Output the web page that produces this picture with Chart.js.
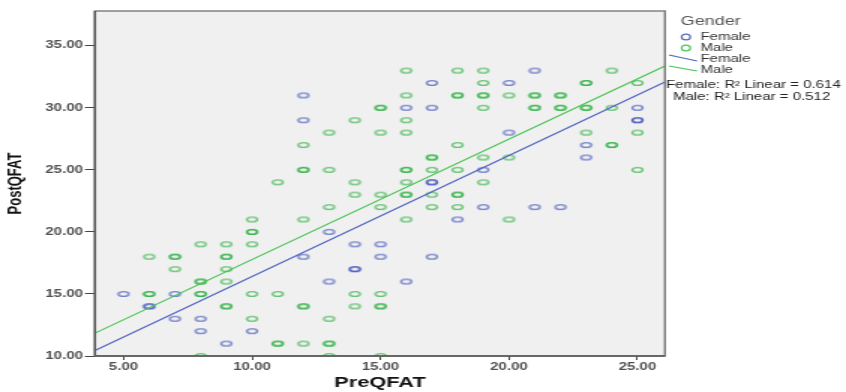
<!DOCTYPE html>
<html><head><meta charset="utf-8">
<script src="https://cdn.jsdelivr.net/npm/chart.js@4.4.0/dist/chart.umd.min.js"></script>
<style>
html,body{margin:0;padding:0;background:#fff;overflow:hidden;}
#wrap{width:564px;height:392px;transform:scaleX(1.5);transform-origin:0 0;}
</style>
</head><body>
<div id="wrap"><canvas id="c" width="564" height="392" style="width:564px;height:392px"></canvas></div>
<script>
// ---- data ----
const xTicks = [5, 10, 15, 20, 25];
const yTicks = [10, 15, 20, 25, 30, 35];
const xRange = [3.89, 26.07];
const yRange = [10, 37.8];

const femalePre  = [5,6,6,7,7,8,8,9,10,12,12,12,13,13,14,14,14,15,15,16,16,17,17,17,17,17,18,19,19,20,20,21,21,22,23,23,25,25,25];
const femalePost = [15,14,14,15,13,13,12,11,12,31,29,18,20,16,19,17,17,19,18,30,16,32,30,24,24,18,21,25,22,32,28,33,22,22,27,26,30,29,29];

const malePre  = [6,6,6,7,7,7,8,8,8,8,8,8,9,9,9,9,9,9,9,10,10,10,10,10,10,11,11,11,11,12,12,12,12,12,12,12,13,13,13,13,13,13,13,14,14,14,14,14,15,15,15,15,15,15,15,15,15,16,16,16,16,16,16,16,16,16,16,17,17,17,17,17,18,18,18,18,18,18,18,18,19,19,19,19,19,19,19,20,20,20,21,21,21,21,22,22,22,22,23,23,23,23,23,24,24,24,24,25,25,25];
const malePost = [18,15,15,18,18,17,19,16,16,15,15,10,19,18,18,17,16,14,14,21,20,20,19,15,13,24,15,11,11,27,25,25,21,14,14,11,28,25,22,13,11,11,10,29,24,23,15,14,30,30,28,23,22,15,14,14,10,33,31,29,28,25,25,24,23,23,21,26,26,25,23,22,33,31,31,27,25,23,23,22,33,32,31,31,30,26,24,31,26,21,31,31,30,30,31,31,30,30,32,32,30,30,28,33,30,27,27,32,28,25];

const fitNames = ['Female', 'Male'];
const femaleFitY = [10.44, 32.08];   // fit line values at xRange ends
const maleFitY   = [11.84, 33.37];
const r2Values   = ['0.614', '0.512'];

// ---- styles ----
const femaleDot = 'rgba(60,80,185,0.68)';
const maleDot   = 'rgba(40,175,60,0.68)';
const femaleLine = 'rgb(80,100,195)';
const maleLine   = 'rgb(70,195,80)';
const FONT = '"Liberation Sans", Arial, sans-serif';

function ellipseImg(color){
  const c = document.createElement('canvas');
  c.width = 10; c.height = 8;
  const g = c.getContext('2d');
  g.strokeStyle = color; g.lineWidth = 1.4;
  g.beginPath(); g.ellipse(5, 4, 3.5, 2.4, 0, 0, Math.PI*2); g.stroke();
  return c;
}
const femaleImg = ellipseImg(femaleDot);
const maleImg = ellipseImg(maleDot);

const framePlugin = {
  id: 'frame',
  beforeDraw(chart){
    const {ctx, chartArea: a} = chart;
    ctx.save();
    ctx.fillStyle = '#f0f0f0';
    ctx.fillRect(a.left, a.top, a.right - a.left, a.bottom - a.top);
    ctx.restore();
  },
  afterDatasetsDraw(chart){
    const {ctx, chartArea: a} = chart;
    ctx.save();
    ctx.strokeStyle = '#7a7a7a'; ctx.lineWidth = 1.4;
    ctx.strokeRect(a.left, a.top, a.right - a.left, a.bottom - a.top);
    ctx.strokeStyle = '#555'; ctx.lineWidth = 1.4;
    ctx.beginPath(); ctx.moveTo(a.left, a.top); ctx.lineTo(a.left, a.bottom); ctx.lineTo(a.right, a.bottom); ctx.stroke();
    ctx.restore();
  }
};

const legendPlugin = {
  id: 'customLegend',
  afterDraw(chart){
    const ctx = chart.ctx;
    ctx.save();
    ctx.textBaseline = 'middle'; ctx.textAlign = 'left';
    ctx.fillStyle = '#555';
    ctx.font = '12px ' + FONT;
    ctx.fillText('Gender', 453.8, 22);
    ctx.font = '10px ' + FONT;
    ctx.fillStyle = '#333';
    const dotCols = ['rgb(90,105,195)', 'rgb(80,195,95)'];
    const dotY = [37, 48];
    for (let i = 0; i < 2; i++){
      ctx.strokeStyle = dotCols[i]; ctx.lineWidth = 1.2;
      ctx.beginPath(); ctx.arc(457.3, dotY[i], 2.9, 0, Math.PI*2); ctx.stroke();
      ctx.fillText(fitNames[i], 467, dotY[i]);
    }
    const lineCols = [femaleLine, maleLine];
    const lineY = [[55, 61], [66, 71]];
    const txtY = [59.5, 70];
    for (let i = 0; i < 2; i++){
      ctx.strokeStyle = lineCols[i]; ctx.lineWidth = 1.1;
      ctx.beginPath(); ctx.moveTo(446, lineY[i][0]); ctx.lineTo(464.7, lineY[i][1]); ctx.stroke();
      ctx.fillText(fitNames[i], 467, txtY[i]);
    }
    ctx.fillStyle = '#222';
    ctx.fillText(fitNames[0] + ': R\u00B2 Linear = ' + r2Values[0], 444, 85);
    ctx.fillText(fitNames[1] + ': R\u00B2 Linear = ' + r2Values[1], 448.7, 97);
    ctx.restore();
  }
};

const tickFont = {family: FONT, size: 10, weight: 'bold'};

new Chart(document.getElementById('c'), {
  type: 'scatter',
  data: {
    datasets: [
      {label: 'Female', data: femalePre.map((x, i) => ({x, y: femalePost[i]})), pointStyle: femaleImg, clip: 0, order: 3},
      {label: 'Male', data: malePre.map((x, i) => ({x, y: malePost[i]})), pointStyle: maleImg, clip: 0, order: 4},
      {type: 'line', label: 'Female fit', data: xRange.map((x, i) => ({x, y: femaleFitY[i]})), borderColor: femaleLine, borderWidth: 1.1, pointRadius: 0, fill: false, order: 1},
      {type: 'line', label: 'Male fit', data: xRange.map((x, i) => ({x, y: maleFitY[i]})), borderColor: maleLine, borderWidth: 1.1, pointRadius: 0, fill: false, order: 2}
    ]
  },
  options: {
    responsive: false,
    animation: false,
    devicePixelRatio: 1,
    layout: {padding: {left: 0, right: 120.7, top: 11, bottom: 0}},
    plugins: {legend: {display: false}, tooltip: {enabled: false}},
    scales: {
      x: {
        type: 'linear', min: xRange[0], max: xRange[1],
        afterBuildTicks: s => { s.ticks = xTicks.map(v => ({value: v})); },
        afterFit: s => { s.height = 36; },
        grid: {drawOnChartArea: false, drawTicks: true, tickLength: 4, color: '#444', lineWidth: 1},
        border: {display: false},
        ticks: {font: tickFont, color: '#505050', padding: 1, maxRotation: 0, callback: v => Number(v).toFixed(2)},
        title: {display: true, text: 'PreQFAT', color: '#111', font: {family: FONT, size: 14.5, weight: 'bold'}, padding: {top: 0, bottom: 0}}
      },
      y: {
        type: 'linear', min: yRange[0], max: yRange[1],
        afterBuildTicks: s => { s.ticks = yTicks.map(v => ({value: v})); },
        afterFit: s => { s.width = 63.33; },
        grid: {drawOnChartArea: false, drawTicks: true, tickLength: 6.7, color: '#444', lineWidth: 1},
        border: {display: false},
        ticks: {font: tickFont, color: '#505050', padding: 1.3, callback: v => Number(v).toFixed(2)},
        title: {display: true, text: 'PostQFAT', color: '#111', font: {family: FONT, size: 13, weight: 'bold'}, padding: {top: 3, bottom: 0}}
      }
    }
  },
  plugins: [framePlugin, legendPlugin]
});
</script>
</body></html>
